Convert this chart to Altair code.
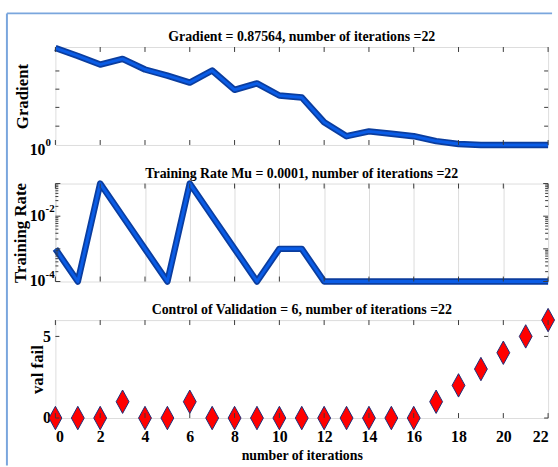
import altair as alt
import pandas as pd

# ---- training record -------------------------------------------------------
iterations = list(range(23))
gradient = [6.86, 5.86, 4.94, 5.53, 4.48, 3.96, 3.45, 4.39, 2.99, 3.40, 2.67,
            2.57, 1.57, 1.19, 1.31, 1.25, 1.19, 1.08, 1.02, 0.98, 0.93, 0.90,
            0.87564]
mu = [1e-3, 1e-4, 1e-1, 1e-2, 1e-3, 1e-4, 1e-1, 1e-2, 1e-3, 1e-4, 1e-3,
      1e-3, 1e-4, 1e-4, 1e-4, 1e-4, 1e-4, 1e-4, 1e-4, 1e-4, 1e-4, 1e-4, 1e-4]
val_fail = [0, 0, 0, 1, 0, 0, 1, 0, 0, 0, 0, 0, 0, 0, 0, 0, 0, 1, 2, 3, 4, 5, 6]

titles = [
    "Gradient = 0.87564, number of iterations =22",
    "Training Rate Mu = 0.0001, number of iterations =22",
    "Control of Validation = 6, number of iterations =22",
]

# axis ticks
x_ticks = list(range(0, 23, 2))
grad_ticks = [1.453, 2.11, 3.03, 4.35]
grad_domain = [1, 7]
mu_domain = [1e-4, 1e-1]
mu_major = [1e-4, 1e-3, 1e-2, 1e-1]
mu_minor = [k * 10.0 ** e for e in (-4, -3, -2) for k in range(2, 10)]
val_ticks = [0, 5]

# y tick labels written as base + exponent
grad_labels = pd.DataFrame({"y": [1], "base": ["10"], "exp": ["0"]})
mu_labels = pd.DataFrame({"y": [1e-2, 1e-4], "base": ["10", "10"], "exp": ["-2", "-4"]})

W, H = 498, 99
FONT = "Liberation Serif"
AX = "#3a3a3a"
LINE_DARK = "#0b3d9e"
LINE_LIGHT = "#0a5ce6"

xscale = alt.Scale(domain=[0, 22], nice=False, zero=False)


def title_layer(text):
    # panel heading drawn just above the plot frame
    return alt.Chart(pd.DataFrame({"t": [text]})).mark_text(
        font=FONT, fontSize=14, fontWeight="bold", align="center",
        baseline="alphabetic", color="black"
    ).encode(x=alt.value(W / 2), y=alt.value(-6), text="t:N")


def plain_axis(grid=False):
    return alt.Axis(title=None, labels=False, ticks=False, domain=False,
                    grid=grid, gridColor="#dcdcdc", values=x_ticks)


def y_axis(text, title_x):
    return alt.Axis(title=text, labels=False, ticks=False, domain=False,
                    grid=False, titleFont=FONT, titleFontSize=17,
                    titleFontWeight="bold", titleColor="black",
                    titleX=title_x, titleY=H / 2, titleAngle=-90,
                    titleBaseline="middle", titleAlign="center")


def x_tick_layers(xaxis):
    xt = pd.DataFrame({"x": x_ticks})
    base = alt.Chart(xt).mark_rule(color=AX, strokeWidth=1)
    enc_x = alt.X("x:Q", scale=xscale, axis=xaxis)
    bottom = base.encode(x=enc_x, y=alt.value(H), y2=alt.value(H - 5))
    top = base.encode(x=enc_x, y=alt.value(0), y2=alt.value(5))
    return [bottom, top]


def y_tick_layers(values, yscale, yaxis, length=4):
    yt = pd.DataFrame({"y": values})
    base = alt.Chart(yt).mark_rule(color=AX, strokeWidth=1)
    enc_y = alt.Y("y:Q", scale=yscale, axis=yaxis)
    left = base.encode(y=enc_y, x=alt.value(0), x2=alt.value(length))
    right = base.encode(y=enc_y, x=alt.value(W - length), x2=alt.value(W))
    return [left, right]


def y_label_layers(labels, yscale, yaxis, dy=0):
    enc_y = alt.Y("y:Q", scale=yscale, axis=yaxis)
    base_txt = alt.Chart(labels).mark_text(
        font=FONT, fontSize=16, fontWeight="bold", align="right",
        baseline="middle", dy=dy, color="black"
    ).encode(y=enc_y, x=alt.value(-10), text="base:N")
    exp_txt = alt.Chart(labels).mark_text(
        font=FONT, fontSize=11, fontWeight="bold", align="left",
        baseline="middle", dy=dy - 7, color="black"
    ).encode(y=enc_y, x=alt.value(-10), text="exp:N")
    return [base_txt, exp_txt]


def thick_line(values, yscale, xaxis, yaxis):
    data = pd.DataFrame({"x": iterations, "y": values})
    base = alt.Chart(data).encode(
        x=alt.X("x:Q", scale=xscale, axis=xaxis),
        y=alt.Y("y:Q", scale=yscale, axis=yaxis))
    outer = base.mark_line(color=LINE_DARK, strokeWidth=6.5,
                           strokeJoin="round", clip=False)
    inner = base.mark_line(color=LINE_LIGHT, strokeWidth=3,
                           strokeJoin="round", clip=False)
    return [outer, inner]


# ---- panel 1: gradient -----------------------------------------------------
grad_scale = alt.Scale(type="log", domain=grad_domain, clamp=True, nice=False)
ax1_x = plain_axis()
ax1_y = y_axis("Gradient", -33)
frame = pd.DataFrame({"k": [0]})
frame_left = alt.Chart(frame).mark_rule(color="#7aa6dd", strokeWidth=2).encode(
    x=alt.value(-49), y=alt.value(-34), y2=alt.value(423))
frame_top = alt.Chart(frame).mark_rule(color="#7aa6dd", strokeWidth=2).encode(
    x=alt.value(-49), x2=alt.value(502), y=alt.value(-34))

p1 = alt.layer(
    *thick_line(gradient, grad_scale, ax1_x, ax1_y),
    *x_tick_layers(ax1_x),
    *y_tick_layers(grad_ticks, grad_scale, ax1_y),
    *y_label_layers(grad_labels, grad_scale, ax1_y, dy=5),
    title_layer(titles[0]),
    frame_left, frame_top,
).properties(width=W, height=H)

# ---- panel 2: mu -----------------------------------------------------------
mu_scale = alt.Scale(type="log", domain=mu_domain, nice=False)
ax2_x = plain_axis(grid=True)
ax2_y = y_axis("Training Rate", -35)

p2 = alt.layer(
    *thick_line(mu, mu_scale, ax2_x, ax2_y),
    *x_tick_layers(ax2_x),
    *y_tick_layers(mu_minor, mu_scale, ax2_y, length=3),
    *y_tick_layers(mu_major, mu_scale, ax2_y, length=5),
    *y_label_layers(mu_labels, mu_scale, ax2_y),
    title_layer(titles[1]),
).properties(width=W, height=H)

# ---- panel 3: validation failures -----------------------------------------
val_scale = alt.Scale(domain=[0, 6], nice=False)
ax3_x = alt.Axis(values=x_ticks, title="number of iterations",
                 labelFont=FONT, labelFontSize=16, labelFontWeight="bold",
                 labelColor="black", labelPadding=11, ticks=False,
                 domain=False, grid=False, titleFont=FONT, titleFontSize=14,
                 titleFontWeight="bold", titleColor="black", titlePadding=4)
ax3_y = alt.Axis(values=val_ticks, title="val fail", labelFont=FONT,
                 labelFontSize=16, labelFontWeight="bold", labelColor="black",
                 labelPadding=5, ticks=False, domain=False, grid=False,
                 titleFont=FONT, titleFontSize=17, titleFontWeight="bold",
                 titleColor="black", titleX=-18, titleY=H / 2,
                 titleAngle=-90, titleBaseline="middle", titleAlign="center")
diamond = "M0,-1L0.55,0L0,1L-0.55,0Z"
val_df = pd.DataFrame({"x": iterations, "y": val_fail})
points = alt.Chart(val_df).mark_point(
    shape=diamond, size=560, filled=True, fill="#ff0000", stroke="#1c2f78",
    strokeWidth=1, opacity=1, clip=False
).encode(
    x=alt.X("x:Q", scale=xscale, axis=ax3_x),
    y=alt.Y("y:Q", scale=val_scale, axis=ax3_y),
)

p3 = alt.layer(
    points,
    *x_tick_layers(ax3_x),
    *y_tick_layers(val_ticks, val_scale, ax3_y),
    title_layer(titles[2]),
).properties(width=W, height=H)

chart = alt.vconcat(p1, p2, p3, spacing=39, bounds="flush").properties(
    padding={"left": 5, "top": 9, "right": 0, "bottom": 0}
).configure_view(stroke=AX, strokeWidth=1).configure(background="white")

chart.save("out.html", embed_options={"renderer": "svg", "actions": False})
